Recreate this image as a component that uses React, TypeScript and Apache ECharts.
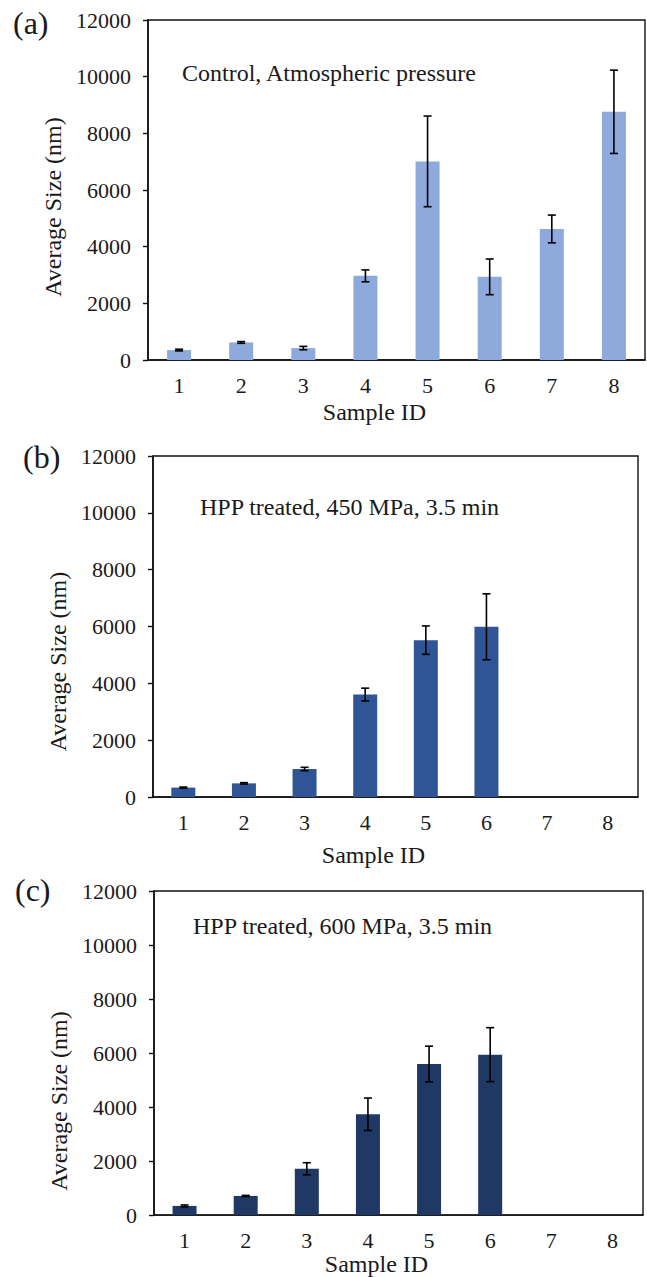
import React, { useEffect, useRef } from "react";
import * as echarts from "echarts";

const categories = ["1", "2", "3", "4", "5", "6", "7", "8"];
const yTicks = { min: 0, max: 12000, interval: 2000 };

const valuesA = [350, 620, 420, 2970, 7010, 2935, 4625, 8760];
const errorsA = [30, 30, 60, 210, 1600, 630, 490, 1470];

const valuesB = [330, 480, 985, 3605, 5520, 5990, null, null];
const errorsB = [20, 25, 60, 225, 500, 1160, null, null];

const valuesC = [340, 710, 1715, 3735, 5595, 5940, null, null];
const errorsC = [35, 20, 225, 600, 660, 1000, null, null];

const panelLabels = ["(a)", "(b)", "(c)"];
const panelNotes = [
  "Control, Atmospheric pressure",
  "HPP treated, 450 MPa, 3.5 min",
  "HPP treated, 600 MPa, 3.5 min",
];
const barColors = ["#8eaadc", "#2f5597", "#203864"];
const xTitle = "Sample ID";
const yTitle = "Average Size (nm)";

const FONT = "Liberation Serif";
const TEXT = "#1a1a1a";

// layout (pixels)
const grids = [
  { left: 148, top: 20, width: 497, height: 340 },
  { left: 153, top: 456, width: 485, height: 341 },
  { left: 154, top: 891, width: 489, height: 327 },
];
const xNameGap = [40, 46, 35];
const yNameGap = [78, 74, 75];
const yNameShift = [34, 70, 96];
const labelPos = [
  { x: 13, y: 25 },
  { x: 23, y: 459 },
  { x: 15, y: 892 },
];
const notePos = [
  { x: 182, y: 75 },
  { x: 200, y: 509 },
  { x: 193, y: 928 },
];

export default function App() {
  const ref = useRef<HTMLDivElement>(null);

  useEffect(() => {
    if (!ref.current) return;
    const chart = echarts.init(ref.current, undefined, { renderer: "svg" });
    const sets = [
      { v: valuesA, e: errorsA },
      { v: valuesB, e: errorsB },
      { v: valuesC, e: errorsC },
    ];

    const errRender = (params: any, api: any) => {
      const x = api.value(0);
      const lo = api.value(1);
      const hi = api.value(2);
      const pLo = api.coord([x, lo]);
      const pHi = api.coord([x, hi]);
      const half = 4;
      const style = { stroke: "#000", lineWidth: 1.6 };
      return {
        type: "group",
        children: [
          { type: "line", shape: { x1: pLo[0], y1: pLo[1], x2: pHi[0], y2: pHi[1] }, style },
          { type: "line", shape: { x1: pHi[0] - half, y1: pHi[1], x2: pHi[0] + half, y2: pHi[1] }, style },
          { type: "line", shape: { x1: pLo[0] - half, y1: pLo[1], x2: pLo[0] + half, y2: pLo[1] }, style },
        ],
      };
    };

    const option: any = {
      animation: false,
      backgroundColor: "#fff",
      textStyle: { fontFamily: FONT, color: TEXT },
      grid: grids.map((g) => ({
        ...g,
        show: true,
        borderColor: "#111",
        borderWidth: 1.4,
        backgroundColor: "transparent",
        containLabel: false,
      })),
      xAxis: grids.map((_, i) => ({
        type: "category",
        gridIndex: i,
        data: categories,
        name: xTitle,
        nameLocation: "middle",
        nameGap: xNameGap[i],
        nameTextStyle: {
          fontFamily: FONT,
          fontSize: 24,
          color: TEXT,
          padding: [0, 44, 0, 0],
        },
        axisLine: { lineStyle: { color: "#111", width: 1.6 } },
        axisTick: { show: false },
        axisLabel: { fontFamily: FONT, fontSize: 22, color: TEXT, margin: 14 },
        splitLine: { show: false },
      })),
      yAxis: grids.map((_, i) => ({
        type: "value",
        gridIndex: i,
        min: yTicks.min,
        max: yTicks.max,
        interval: yTicks.interval,
        name: yTitle,
        nameLocation: "middle",
        nameGap: yNameGap[i],
        nameTextStyle: {
          fontFamily: FONT,
          fontSize: 24,
          color: TEXT,
          padding: [0, yNameShift[i], 0, 0],
        },
        axisLine: { show: true, lineStyle: { color: "#111", width: 1.6 } },
        axisTick: { show: true, length: 5, lineStyle: { color: "#111", width: 1.4 } },
        axisLabel: {
          fontFamily: FONT,
          fontSize: 22,
          color: TEXT,
          margin: 17,
          formatter: (v: number) => String(v),
        },
        splitLine: { show: false },
      })),
      series: [
        ...sets.map((s, i) => ({
          type: "bar",
          xAxisIndex: i,
          yAxisIndex: i,
          data: s.v.map((v) => (v == null ? "-" : v)),
          barWidth: 24,
          itemStyle: { color: barColors[i] },
          z: 2,
        })),
        ...sets.map((s, i) => ({
          type: "custom",
          xAxisIndex: i,
          yAxisIndex: i,
          renderItem: errRender,
          encode: { x: 0, y: [1, 2] },
          data: s.v
            .map((v, k) => (v == null || s.e[k] == null ? null : [k, v - (s.e[k] as number), v + (s.e[k] as number)]))
            .filter((d) => d !== null),
          z: 3,
        })),
      ],
      graphic: [
        ...panelLabels.map((t, i) => ({
          type: "text",
          left: labelPos[i].x,
          top: labelPos[i].y - 18,
          style: { text: t, fontFamily: FONT, fontSize: 32, fill: TEXT },
        })),
        ...panelNotes.map((t, i) => ({
          type: "text",
          left: notePos[i].x,
          top: notePos[i].y - 14,
          style: { text: t, fontFamily: FONT, fontSize: 24, fill: TEXT },
        })),
      ],
    };

    chart.setOption(option);
    return () => chart.dispose();
  }, []);

  return (
    <div
      ref={ref}
      style={{ position: "absolute", left: 0, top: 0, width: 647, height: 1277 }}
    />
  );
}
